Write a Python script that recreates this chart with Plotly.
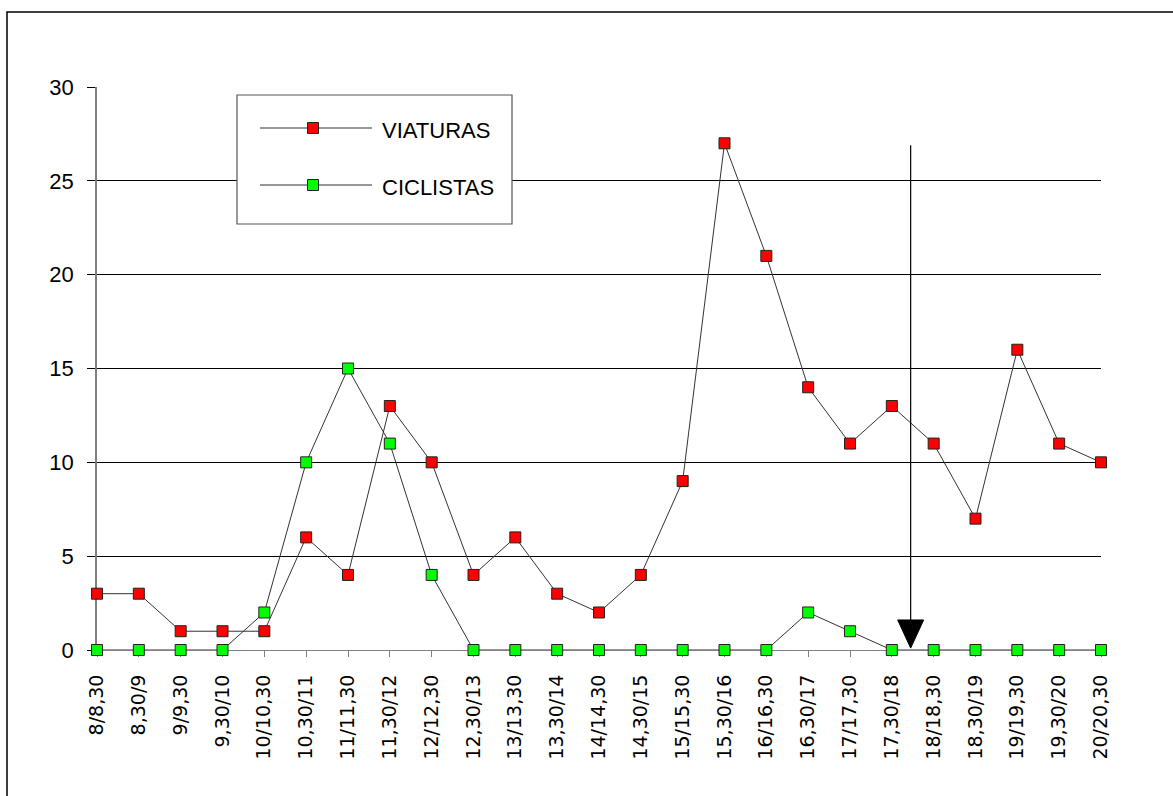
import plotly.graph_objects as go

# Half-hour time slots
slots = ["8/8,30", "8,30/9", "9/9,30", "9,30/10", "10/10,30", "10,30/11",
         "11/11,30", "11,30/12", "12/12,30", "12,30/13", "13/13,30", "13,30/14",
         "14/14,30", "14,30/15", "15/15,30", "15,30/16", "16/16,30", "16,30/17",
         "17/17,30", "17,30/18", "18/18,30", "18,30/19", "19/19,30", "19,30/20",
         "20/20,30"]

viaturas = [3, 3, 1, 1, 1, 6, 4, 13, 10, 4, 6, 3, 2, 4, 9, 27, 21, 14, 11, 13,
            11, 7, 16, 11, 10]
ciclistas = [0, 0, 0, 0, 2, 10, 15, 11, 4, 0, 0, 0, 0, 0, 0, 0, 0, 2, 1, 0,
             0, 0, 0, 0, 0]

y_ticks = [0, 5, 10, 15, 20, 25, 30]

# Marker arrow between 17,30/18 and 18/18,30
ARROW_X = 19.45
ARROW_TOP = 26.9
ARROW_HEAD_TOP = 1.6
ARROW_TIP = 0.1
ARROW_HALF_W = 0.31

W, H = 1173, 796
ML, MR, MT, MB = 97, 72, 87, 146
PW, PH = W - ML - MR, H - MT - MB


def px(x):
    return (x - ML) / PW


def py(y):
    return (H - MB - y) / PH


FONT = "Liberation Sans, Arial, sans-serif"
LINE_COL = "#333333"
EDGE_COL = "#222222"

x_idx = list(range(len(slots)))

fig = go.Figure()
for name, vals, col in [("VIATURAS", viaturas, "#ff0000"),
                        ("CICLISTAS", ciclistas, "#00ff00")]:
    fig.add_trace(go.Scatter(
        x=x_idx, y=vals, name=name, mode="lines+markers",
        line=dict(color=LINE_COL, width=1),
        marker=dict(symbol="square", size=11, color=col,
                    line=dict(color=EDGE_COL, width=1)),
        cliponaxis=False, showlegend=False))

shapes = []
# outer frame
shapes.append(dict(type="rect", xref="paper", yref="paper",
                   x0=px(7), x1=px(1200), y0=py(820), y1=py(12),
                   line=dict(color="black", width=1.5), layer="below"))
# arrow
shapes.append(dict(type="line", xref="x", yref="y", x0=ARROW_X, x1=ARROW_X,
                   y0=ARROW_TOP, y1=ARROW_HEAD_TOP,
                   line=dict(color="black", width=1.2)))
shapes.append(dict(type="path", xref="x", yref="y",
                   path=f"M {ARROW_X - ARROW_HALF_W} {ARROW_HEAD_TOP} "
                        f"L {ARROW_X + ARROW_HALF_W} {ARROW_HEAD_TOP} "
                        f"L {ARROW_X} {ARROW_TIP} Z",
                   fillcolor="black", line=dict(color="black", width=1)))

# legend box
shapes.append(dict(type="rect", xref="paper", yref="paper",
                   x0=px(237), x1=px(512), y0=py(224), y1=py(95),
                   fillcolor="white", line=dict(color="#555555", width=1.2)))
annotations = []
for name, col, yy in [("VIATURAS", "#ff0000", 128), ("CICLISTAS", "#00ff00", 185)]:
    shapes.append(dict(type="line", xref="paper", yref="paper",
                       x0=px(260), x1=px(372), y0=py(yy), y1=py(yy),
                       line=dict(color=LINE_COL, width=1)))
    shapes.append(dict(type="rect", xref="paper", yref="paper",
                       x0=px(307.5), x1=px(318.5), y0=py(yy + 5.5), y1=py(yy - 5.5),
                       fillcolor=col, line=dict(color=EDGE_COL, width=1)))
    annotations.append(dict(xref="paper", yref="paper", x=px(380), y=py(yy + 2),
                            text=name, showarrow=False, xanchor="left",
                            yanchor="middle",
                            font=dict(family=FONT, size=22, color="black")))

fig.update_layout(
    width=W, height=H,
    margin=dict(l=ML, r=MR, t=MT, b=MB, pad=0),
    paper_bgcolor="white", plot_bgcolor="white",
    shapes=shapes, annotations=annotations,
    showlegend=False,
    xaxis=dict(
        range=[0, len(slots) - 1], tickmode="array", tickvals=x_idx,
        ticktext=slots, tickangle=-90, ticks="outside", ticklen=6,
        tickcolor="#808080", showline=True, linecolor="#808080", linewidth=1,
        showgrid=False, zeroline=False, layer="below traces",
        tickfont=dict(family="DejaVu Sans, sans-serif", size=19, color="black"),
        ticklabelstandoff=10, fixedrange=True),
    yaxis=dict(
        range=[0, 30], tickmode="array", tickvals=y_ticks, ticks="outside",
        ticklen=8, tickcolor="black", showline=True, linecolor="#808080",
        linewidth=1.5, showgrid=True, gridcolor="black", gridwidth=1,
        zeroline=False, layer="below traces",
        tickfont=dict(family=FONT, size=22, color="black"),
        ticklabelstandoff=9, fixedrange=True),
)

fig.write_html("out.html")
